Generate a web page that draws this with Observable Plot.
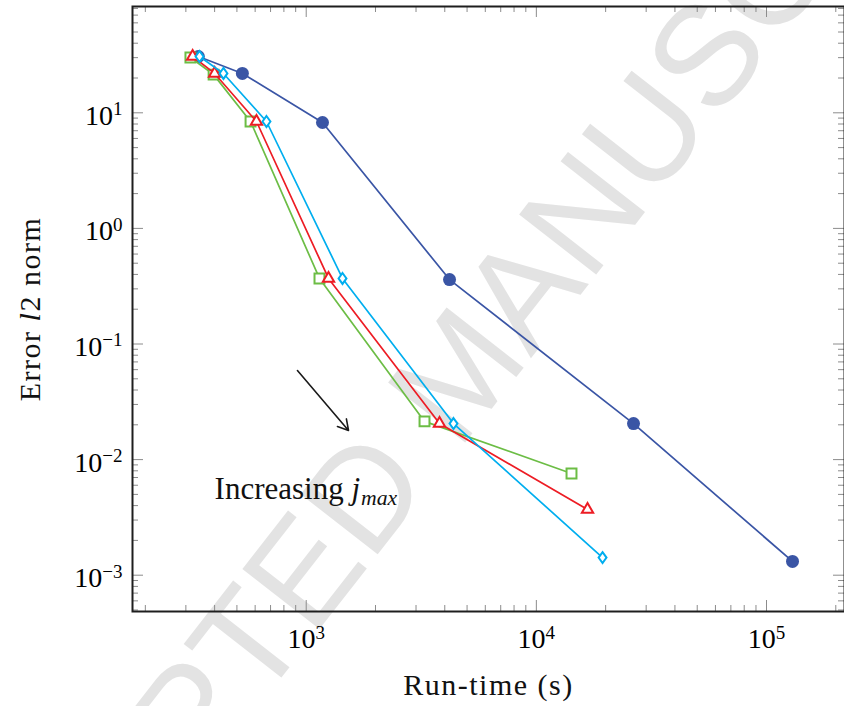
<!DOCTYPE html>
<html><head><meta charset="utf-8">
<script src="https://cdn.jsdelivr.net/npm/d3@7"></script>
<script src="https://cdn.jsdelivr.net/npm/@observablehq/plot@0.6"></script>
<style>
body{margin:0;background:#fff;}
#chart{width:844px;height:706px;overflow:hidden;}
#chart svg text{font-family:"Liberation Serif", serif;}
#chart svg text.wm{font-family:"Liberation Sans", sans-serif;}
</style></head><body><div id="chart"></div>
<script>
// ---- data (run-time in s, error l2 norm) ----
const runtimeCircle   = [340, 528, 1177, 4195, 26430, 129700];
const errorCircle     = [30.7, 21.9, 8.24, 0.361, 0.0205, 0.001315];
const runtimeDiamond  = [344, 437, 672, 1438, 4365, 19390];
const errorDiamond    = [30.7, 21.9, 8.41, 0.369, 0.0205, 0.00142];
const runtimeTriangle = [321, 400, 608, 1250, 3795, 16685];
const errorTriangle   = [30.7, 21.9, 8.41, 0.369, 0.0205, 0.0037];
const runtimeSquare   = [314, 396, 573, 1142, 3266, 14214];
const errorSquare     = [30.1, 21.4, 8.41, 0.369, 0.0214, 0.00759];

const xTickValues = [1e3, 1e4, 1e5];
const yTickValues = [1e-3, 1e-2, 1e-1, 1, 10];
const xDomain = [175.9, 218200];
const yDomain = [4.853e-4, 83.1];

const xTitle = "Run-time (s)";
const yTitle = "Error l2 norm";
const annotation = "Increasing jmax";
const watermark = "ACCEPTED MANUSCRIPT";

// minor ticks (2..9 × decade) inside the domains
function minorTicks(domain){
  const out = [];
  for (let e = Math.floor(Math.log10(domain[0])); e <= Math.ceil(Math.log10(domain[1])); e++)
    for (let m = 2; m <= 9; m++){ const v = m * Math.pow(10, e); if (v > domain[0] && v < domain[1]) out.push(v); }
  return out;
}
const xMinor = minorTicks(xDomain);
const yMinor = minorTicks(yDomain);

const table = (xs, ys) => xs.map((x, i) => ({x, y: ys[i]}));
const circleData = table(runtimeCircle, errorCircle);
const diamondData = table(runtimeDiamond, errorDiamond);
const triangleData = table(runtimeTriangle, errorTriangle);
const squareData = table(runtimeSquare, errorSquare);

const cBlue = "#3a55a5", cCyan = "#00aeef", cRed = "#ed1c24", cGreen = "#6cbd45";

const narrowDiamond = {
  draw(ctx, size){
    const h = Math.sqrt(size) * 0.62, w = h * 0.72;
    ctx.moveTo(0, -h); ctx.lineTo(w, 0); ctx.lineTo(0, h); ctx.lineTo(-w, 0); ctx.closePath();
  }
};

const W = 844, H = 706, mL = 132, mR = 0, mT = 6, mB = 95;
const innerW = W - mL - mR, innerH = H - mT - mB;
const majorLen = 11, minorLen = 6, tickColor = "#8c8c8c";
const serif = "Liberation Serif";
const supFmt = d => "10^" + String(Math.round(Math.log10(d))).replace("-", "\u2212");

const chart = Plot.plot({
  width: W, height: H,
  marginLeft: mL, marginRight: mR, marginTop: mT, marginBottom: mB,
  style: {fontFamily: serif, background: "#fff"},
  x: {type: "log", domain: xDomain},
  y: {type: "log", domain: yDomain},
  marks: [
    Plot.text([watermark], {x: () => 4700, y: () => 0.055, text: d => d, rotate: -52,
      fontSize: 142, fill: "#e3e3e3", fontFamily: "Liberation Sans",
      textAnchor: "middle", lineAnchor: "middle"}),
    // ticks (inward) on all four sides
    Plot.tickX(xTickValues, {x: d => d, insetTop: innerH - majorLen, stroke: tickColor}),
    Plot.tickX(xMinor, {x: d => d, insetTop: innerH - minorLen, stroke: tickColor}),
    Plot.tickX(xTickValues, {x: d => d, insetBottom: innerH - majorLen, stroke: tickColor}),
    Plot.tickX(xMinor, {x: d => d, insetBottom: innerH - minorLen, stroke: tickColor}),
    Plot.tickY(yTickValues, {y: d => d, insetRight: innerW - majorLen, stroke: tickColor}),
    Plot.tickY(yMinor, {y: d => d, insetRight: innerW - minorLen, stroke: tickColor}),
    Plot.tickY(yTickValues, {y: d => d, insetLeft: innerW - majorLen, stroke: tickColor}),
    Plot.tickY(yMinor, {y: d => d, insetLeft: innerW - minorLen, stroke: tickColor}),
    Plot.frame({stroke: "#1e1e1e", strokeWidth: 2}),
    Plot.axisX(xTickValues, {tickSize: 0, tickPadding: 17, tickFormat: supFmt, fontSize: 28, label: null, fontFamily: serif}),
    Plot.axisY(yTickValues, {tickSize: 0, tickPadding: 10, tickFormat: supFmt, fontSize: 28, label: null, dy: 3, fontFamily: serif}),
    Plot.text([xTitle], {frameAnchor: "bottom", text: d => d, dy: 74, fontSize: 30, lineAnchor: "middle", textAnchor: "middle", fill: "#111", fontFamily: serif}),
    Plot.text([yTitle], {frameAnchor: "left", text: d => d, dx: -102, rotate: -90, fontSize: 30, lineAnchor: "middle", textAnchor: "middle", fill: "#111", fontFamily: serif}),
    // arrow + annotation
    Plot.arrow([0], {x1: () => 916, y1: () => 0.059, x2: () => 1527, y2: () => 0.01787, stroke: "#1a1a1a", strokeWidth: 1.6, headLength: 11}),
    Plot.text([annotation], {x: () => 400, y: () => 0.0046, text: d => d, textAnchor: "start", lineAnchor: "bottom", fontSize: 31, fill: "#111", fontFamily: serif}),
    // series
    Plot.line(circleData, {x: "x", y: "y", stroke: cBlue, strokeWidth: 1.7}),
    Plot.dot(circleData, {x: "x", y: "y", r: 6.5, fill: cBlue, stroke: "none"}),
    Plot.line(squareData, {x: "x", y: "y", stroke: cGreen, strokeWidth: 1.7}),
    Plot.dot(squareData, {x: "x", y: "y", symbol: "square", r: 5.6, fill: "white", stroke: cGreen, strokeWidth: 2}),
    Plot.line(triangleData, {x: "x", y: "y", stroke: cRed, strokeWidth: 1.7}),
    Plot.dot(triangleData, {x: "x", y: "y", symbol: "triangle", r: 4.2, fill: "white", stroke: cRed, strokeWidth: 2}),
    Plot.line(diamondData, {x: "x", y: "y", stroke: cCyan, strokeWidth: 1.7}),
    Plot.dot(diamondData, {x: "x", y: "y", symbol: narrowDiamond, r: 5, fill: "white", stroke: cCyan, strokeWidth: 2})
  ]
});

// typeset superscripts / italics as tspans
d3.select(chart).selectAll("text").each(function(){
  const el = d3.select(this);
  const t = this.textContent;
  const m = t.match(/^10\^(.+)$/);
  if (t === watermark) {
    el.attr("class", "wm");
  } else if (m) {
    el.text(null);
    el.append("tspan").text("10");
    el.append("tspan").attr("dy", "-0.5em").attr("font-size", "0.68em").text(m[1]);
  } else if (t === yTitle) {
    el.text(null).attr("letter-spacing", "1.5");
    el.append("tspan").text("Error ");
    el.append("tspan").attr("font-style", "italic").text("l");
    el.append("tspan").text("2 norm");
  } else if (t === xTitle) {
    el.attr("letter-spacing", "1.5");
  } else if (t === annotation) {
    el.text(null);
    el.append("tspan").text("Increasing ");
    el.append("tspan").attr("font-style", "italic").text("j");
    el.append("tspan").attr("font-style", "italic").attr("font-size", "0.7em").attr("dy", "0.3em").attr("dx", "1").text("max");
  }
});

document.getElementById("chart").appendChild(chart);
</script>
</body></html>
